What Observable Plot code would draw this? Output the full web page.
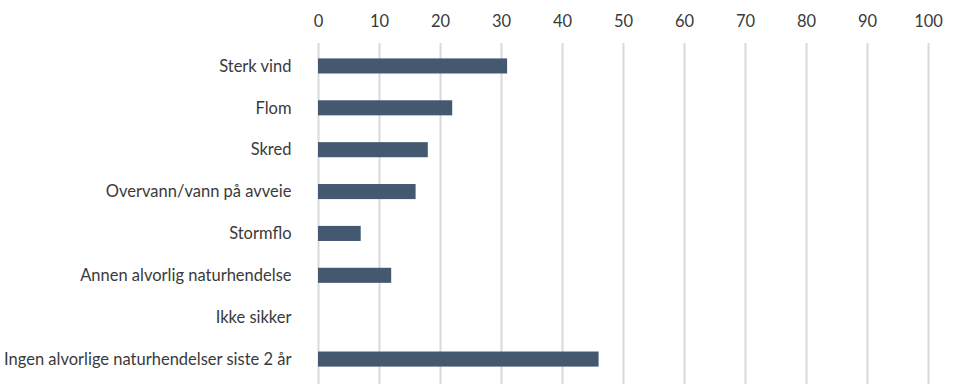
<!DOCTYPE html>
<html><head><meta charset="utf-8">
<script src="https://cdn.jsdelivr.net/npm/d3@7"></script>
<script src="https://cdn.jsdelivr.net/npm/@observablehq/plot@0.6"></script>
<style>body{margin:0;background:#fff;font-family:Lato,sans-serif}</style>
</head><body><div id="chart"></div>
<script>
const categories = ["Sterk vind","Flom","Skred","Overvann/vann på avveie","Stormflo","Annen alvorlig naturhendelse","Ikke sikker","Ingen alvorlige naturhendelser siste 2 år"];
const values = [31,22,18,16,7,12,0,46];
const xTicks = [0,10,20,30,40,50,60,70,80,90,100];
const data = categories.map((c,i)=>({category:c, value:values[i]}));

const chart = Plot.plot({
  width: 954, height: 384,
  marginTop: 45, marginBottom: 4, marginLeft: 318, marginRight: 26,
  style: {fontFamily: "Lato, sans-serif", fontSize: "16.5px", color: "#3a3a3a", background: "#fff"},
  x: {domain:[0,100], ticks: xTicks, axis: "top", label: null, tickSize: 0, tickPadding: 19},
  y: {domain: categories, label: null, tickSize: 0, tickPadding: 27, paddingInner: 0.64, paddingOuter: 0.32, round: false},
  marks: [
    Plot.ruleX(xTicks, {stroke: "#d9d9d9", strokeWidth: 2, insetTop: -2, insetBottom: -4}),
    Plot.barX(data, {x: "value", y: "category", fill: "#44596f"})
  ]
});
document.getElementById("chart").append(chart);
</script></body></html>
